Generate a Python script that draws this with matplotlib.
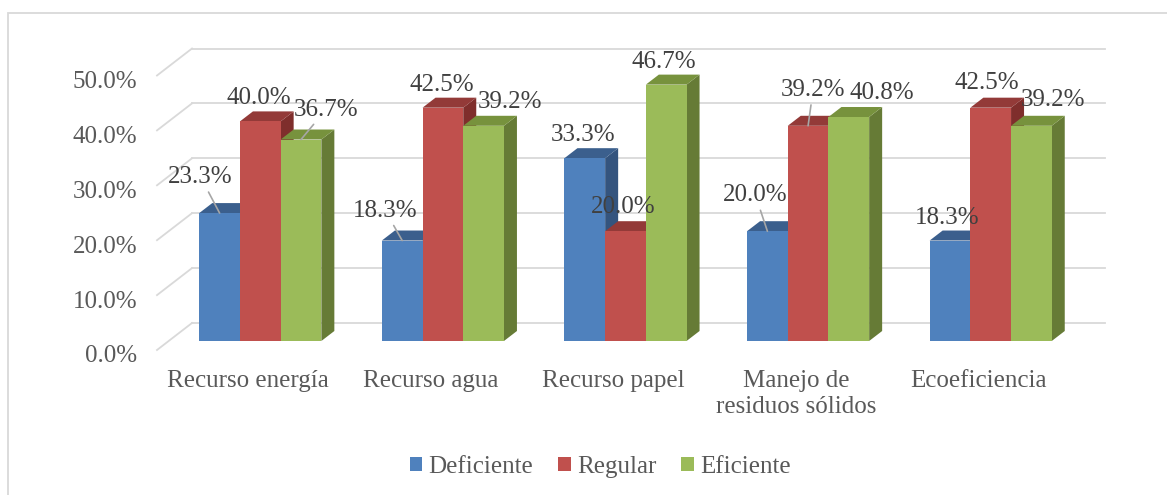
import matplotlib
matplotlib.use("Agg")
import matplotlib.pyplot as plt
import matplotlib.transforms as mtransforms
from matplotlib.patches import Polygon, Patch, Rectangle

categories = ["Recurso energía", "Recurso agua", "Recurso papel",
              "Manejo de\nresiduos sólidos", "Ecoeficiencia"]
series = ["Deficiente", "Regular", "Eficiente"]
deficiente = [0.233, 0.183, 0.333, 0.200, 0.183]
regular = [0.400, 0.425, 0.200, 0.392, 0.425]
eficiente = [0.367, 0.392, 0.467, 0.408, 0.392]
yticks = [0.0, 0.1, 0.2, 0.3, 0.4, 0.5]

# label offsets (pixels from the bar front-top centre) and leader lines
label_offsets = [
    [(-19, 36), (-17, 30), (-2, 23), (-12, 36), (-3, 23)],
    [(-1, 23), (-1, 23), (-2, 24), (5, 36), (-4, 25)],
    [(25, 30), (26, 24), (-2, 23), (33, 24), (22, 26)],
]
leaders = [
    [True, True, False, True, False],
    [False, False, False, True, False],
    [True, False, False, False, False],
]

front = ["#4F81BD", "#C0504D", "#9BBB59"]
top = ["#3B5F8D", "#933A38", "#77923D"]
side = ["#34547E", "#7F2E2C", "#667B36"]

FONT = "Liberation Serif"
FS = 18
W, H = 1167, 495
fig = plt.figure(figsize=(W / 100, H / 100), dpi=100)

# bar front plane in pixels
left, right, base, top50 = 169, 1082, 341, 66.5
ax = fig.add_axes([left / W, (H - base) / H, (right - left) / W, (base - top50) / H])
ax.set_xlim(0, 5)
ax.set_ylim(0, 0.5)
px_x = 5 / (right - left)
px_y = 0.5 / (base - top50)

# back wall grid + side wall diagonals
for v in yticks:
    ax.plot([23 * px_x, 5 + 23 * px_x], [v + 18 * px_y, v + 18 * px_y],
            color="#D9D9D9", lw=1.3, clip_on=False, zorder=0)
    ax.plot([-12 * px_x, 23 * px_x], [v - 9 * px_y, v + 18 * px_y],
            color="#D9D9D9", lw=1.3, clip_on=False, zorder=0)

bw = 40.7 * px_x
dx, dy = 13 * px_x, 10 * px_y
data = [deficiente, regular, eficiente]
for j, vals in enumerate(data):
    xs = [i + 0.5 + (j - 1) * bw for i in range(len(vals))]
    z = 2 + 3 * j
    ax.bar(xs, vals, width=bw, color=front[j], zorder=z + 1, clip_on=False)
    for i, (x, v) in enumerate(zip(xs, vals)):
        x0, x1 = x - bw / 2, x + bw / 2
        ax.add_patch(Polygon([(x1, 0), (x1 + dx, dy), (x1 + dx, v + dy), (x1, v)],
                             closed=True, fc=side[j], ec="none", zorder=z, clip_on=False))
        ax.add_patch(Polygon([(x0, v), (x0 + dx, v + dy), (x1 + dx, v + dy), (x1, v)],
                             closed=True, fc=top[j], ec="none", zorder=z, clip_on=False))
        ox, oy = label_offsets[j][i]
        arrow = None
        if leaders[j][i]:
            arrow = dict(arrowstyle="-", color="#A6A6A6", lw=1.2, shrinkA=1, shrinkB=0)
        ax.annotate(f"{v * 100:.1f}%", xy=(x, v), xytext=(ox, oy),
                    textcoords="offset pixels", ha="center", va="center",
                    fontsize=FS, family=FONT, color="#404040",
                    arrowprops=arrow, zorder=20, annotation_clip=False)

for s in ax.spines.values():
    s.set_visible(False)
ax.set_yticks(yticks)
ax.set_yticklabels([f"{v * 100:.1f}%" for v in yticks], fontsize=FS,
                   family=FONT, color="#595959")
ax.set_xticks([i + 0.5 - 12 * px_x for i in range(len(categories))])
ax.set_xticklabels(categories, fontsize=FS, family=FONT, color="#595959",
                   linespacing=1.2, va="top")
ax.tick_params(axis="y", length=0, pad=23)
ax.tick_params(axis="x", length=0, pad=21)
ax.set_ylim(0, 0.5)
# y tick labels sit on the front edge of the floor/side wall
off = mtransforms.ScaledTranslation(0, -0.13, fig.dpi_scale_trans)
for lab in ax.get_yticklabels():
    lab.set_transform(lab.get_transform() + off)

handles = [Patch(facecolor=c, edgecolor="none") for c in front]
fig.legend(handles, series, loc="center", bbox_to_anchor=(600 / W, (H - 467) / H),
           ncol=3, frameon=False, prop={"family": FONT, "size": FS},
           handlelength=0.5, handleheight=0.5, handletextpad=0.25,
           columnspacing=1.0, labelcolor="#595959")

fig.patches.append(Rectangle((8 / W, -0.1), 1.2, (H - 13) / H + 0.1,
                             transform=fig.transFigure, fill=False,
                             ec="#D9D9D9", lw=1.3))

fig.savefig("out.png", dpi=100, facecolor="white")
